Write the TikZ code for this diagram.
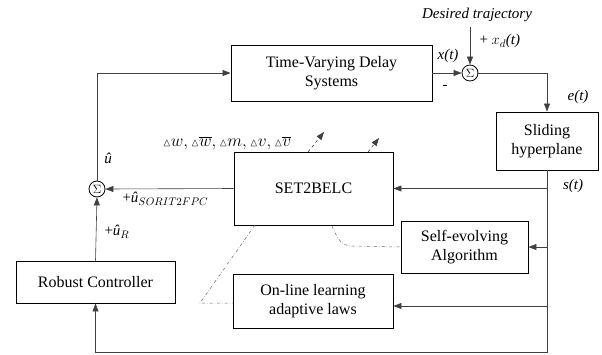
\documentclass[tikz,border=0pt]{standalone}
\usepackage{amssymb}
\usepackage{fontspec}
\setmainfont{Liberation Serif}
\usetikzlibrary{arrows.meta}

\newcommand{\dtri}{\mathord{\scriptstyle\vartriangle}}

\begin{document}
\begin{tikzpicture}[x=1pt,y=-1pt,
    blk/.style={draw,line width=0.9pt,align=center,inner sep=0pt,font=\fontsize{16}{19}\selectfont},
    sumnode/.style={draw,circle,line width=0.8pt,inner sep=0pt,minimum size=16pt,font=\fontsize{12}{12}\selectfont},
    sig/.style={draw=black!75,line width=0.6pt},
    tip/.style={-{Triangle[length=8pt,width=6pt]}},
    lbl/.style={font=\fontsize{15}{17}\selectfont\itshape},
    mlbl/.style={font=\fontsize{15}{17}\selectfont}]
  \useasboundingbox (0,0) rectangle (602,354);

  % blocks
  \node[blk,minimum width=201pt,minimum height=56pt] (plant) at (331.5,73) {Time-Varying Delay\\Systems};
  \node[blk,minimum width=102pt,minimum height=58pt] (slide) at (547,141) {Sliding\\hyperplane};
  \node[blk,minimum width=159pt,minimum height=73pt] (set2) at (313.5,188.5) {SET2BELC};
  \node[blk,minimum width=127pt,minimum height=52pt] (selfev) at (464.5,247) {Self-evolving\\Algorithm};
  \node[blk,minimum width=160pt,minimum height=54pt] (online) at (313,301) {On-line learning\\adaptive laws};
  \node[blk,minimum width=159pt,minimum height=42pt] (robust) at (95.5,282) {Robust Controller};
  \node[sumnode] (sum1) at (470,73) {$\Sigma$};
  \node[sumnode] (sum2) at (97,189) {$\Sigma$};

  % reference input
  \node[lbl] (des) at (477,15) {Desired trajectory};
  \coordinate (xdin) at (470,27);
  \draw[sig,tip] (xdin) -- (sum1.north);
  \node[lbl,anchor=west] (xd) at (476,41) {\upshape+\ \itshape $x_d$(t)};

  % forward path
  \draw[sig,tip] (plant.east) -- (sum1.west);
  \node[lbl] (xt) at (448,56) {x(t)};
  \node[mlbl] (minus) at (445,87) {-};
  \draw[sig,tip] (sum1.east) -| (slide.north);
  \node[lbl] (et) at (578,97) {e(t)};

  % s(t) distribution
  \coordinate (sdown) at (548,352);
  \draw[sig,tip] (slide.south) |- (robust.south |- sdown) -- (robust.south);
  \node[lbl] (st) at (573,186) {s(t)};
  \draw[sig,tip] (set2.east -| slide.south) -- (set2.east);
  \draw[sig,tip] (selfev.east -| slide.south) -- (selfev.east);
  \draw[sig,tip] ([yshift=-5pt]online.east -| slide.south) -- ([yshift=-5pt]online.east);

  % control sum
  \draw[sig,tip] (robust.north) -- (sum2.south);
  \node[mlbl,anchor=west] (ur) at (101,232) {+\textit{û}$_R$};
  \draw[sig,tip] (set2.west) -- (sum2.east);
  \node[mlbl,anchor=west] (usor) at (119,199) {+\textit{û}$_{SORIT2FPC}$};
  \draw[sig,tip] (sum2.north) |- (plant.west);
  \node[mlbl] (uhat) at (108,158) {\textit{û}};

  % parameter updates
  \node[mlbl,font=\fontsize{16}{18}\selectfont] (dpar) at (227,143) {$\dtri w, \dtri\overline{w}, \dtri m, \dtri v, \dtri\overline{v}$};
  \coordinate (d1a) at (308,152);
  \coordinate (d1b) at (324,132);
  \coordinate (d2a) at (368,152);
  \coordinate (d2b) at (379,138);
  \draw[sig,dashed,tip] (d1a) -- (d1b);
  \draw[sig,dashed,tip] (d2a) -- (d2b);
  \draw[black!60,line width=0.5pt,dash dot] (332,226) .. controls (338,240) and (342,246) .. (352,246) -- (selfev.west);
  \draw[black!60,line width=0.5pt,dash dot] (255,225) -- (200,303) -- (online.west |- 0,303);
\end{tikzpicture}
\end{document}
